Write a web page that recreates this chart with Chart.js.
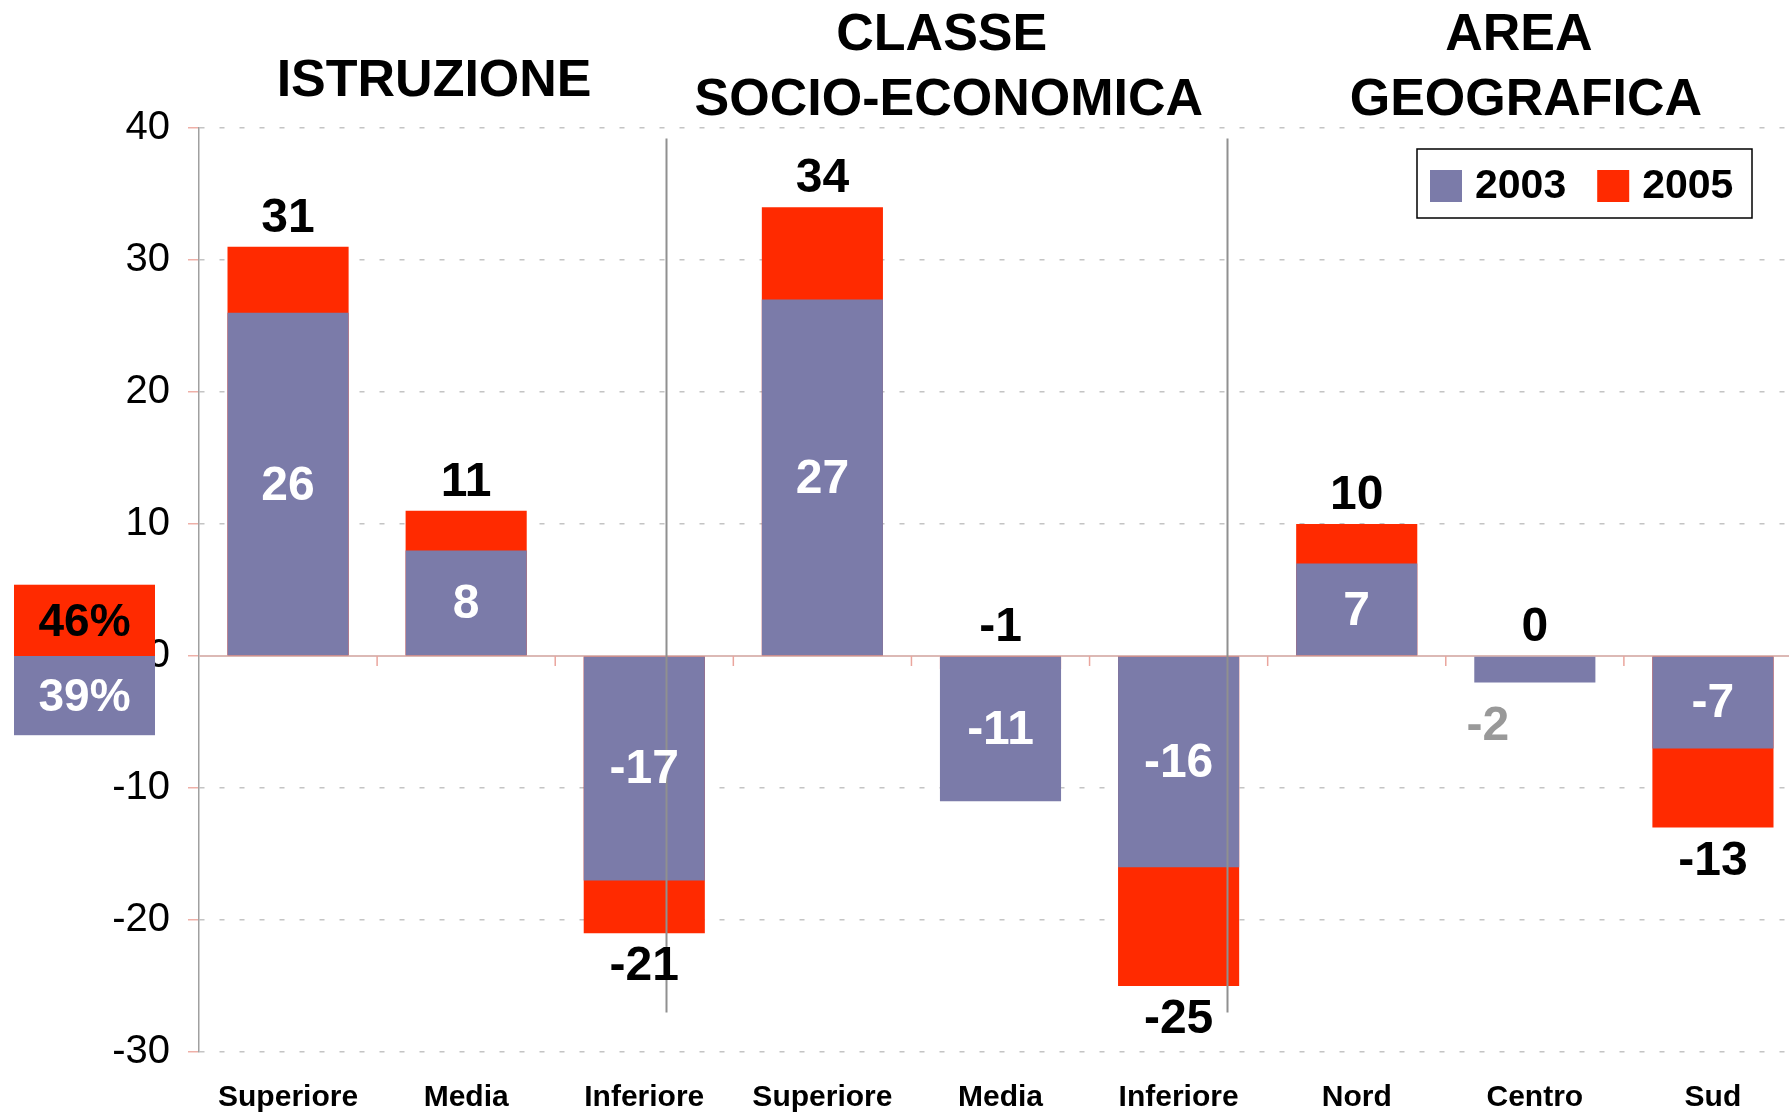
<!DOCTYPE html>
<html>
<head>
<meta charset="utf-8">
<script src="https://cdn.jsdelivr.net/npm/chart.js@4.4.0/dist/chart.umd.min.js"></script>
<style>
    html, body { margin: 0; padding: 0; background: #fff; overflow: hidden; }
    #wrap { width: 1804px; height: 1113px; }
</style>
</head>
<body>
<div id="wrap"><canvas id="chart" width="1804" height="1113"></canvas></div>
<script>
// Data
const categories = ['Superiore', 'Media', 'Inferiore', 'Superiore', 'Media', 'Inferiore', 'Nord', 'Centro', 'Sud'];
const values2003 = [26, 8, -17, 27, -11, -16, 7, -2, -7];
const values2005 = [31, 11, -21, 34, -1, -25, 10, 0, -13];
const seriesNames = ['2003', '2005'];
const totalLabels = ['39%', '46%']; // 2003, 2005
const groupTitles = [['ISTRUZIONE'], ['CLASSE', 'SOCIO-ECONOMICA'], ['AREA', 'GEOGRAFICA']];
const yMin = -30;
const yMax = 40;
const yStep = 10;

const BLUE = '#7b7ba9';
const RED = '#ff2a00';
const FONT = '"Liberation Sans", Arial, Helvetica, sans-serif';

const decorations = {
    id: 'decorations',
    beforeDatasetsDraw(chart) {
        const { ctx, chartArea, scales: { x, y } } = chart;
        const y0 = y.getPixelForValue(0);
        ctx.save();
        ctx.strokeStyle = '#dcb9b5';
        ctx.lineWidth = 2;
        ctx.beginPath();
        ctx.moveTo(chartArea.left, y0);
        ctx.lineTo(chartArea.right, y0);
        ctx.stroke();
        // little ticks between categories
        ctx.strokeStyle = '#eaa59d';
        ctx.lineWidth = 1.5;
        for (let i = 1; i < categories.length; i++) {
            const px = x.getPixelForValue(i - 0.5);
            ctx.beginPath();
            ctx.moveTo(px, y0);
            ctx.lineTo(px, y0 + 10);
            ctx.stroke();
        }
        ctx.restore();
    },
    afterDatasetsDraw(chart) {
        const { ctx, chartArea, scales: { x, y } } = chart;
        ctx.save();

        // group separators
        ctx.strokeStyle = '#909090';
        ctx.lineWidth = 2;
        [2.12, 5.27].forEach(pos => {
            const px = Math.round(x.getPixelForValue(pos)) + 0.5;
            ctx.beginPath();
            ctx.moveTo(px, y.getPixelForValue(39.2));
            ctx.lineTo(px, y.getPixelForValue(-27));
            ctx.stroke();
        });

        // value labels
        ctx.textAlign = 'center';
        ctx.textBaseline = 'middle';
        ctx.font = `bold 48px ${FONT}`;
        values2003.forEach((v, i) => {
            const cx = x.getPixelForValue(i);
            if (Math.abs(v) >= 4) {
                ctx.fillStyle = '#ffffff';
                ctx.fillText(String(v), cx, y.getPixelForValue(v / 2) + 2);
            } else {
                ctx.fillStyle = '#999999';
                ctx.fillText(String(v), cx - 47, y.getPixelForValue(Math.min(v, 0)) + 44);
            }
        });
        values2005.forEach((v, i) => {
            const cx = x.getPixelForValue(i);
            ctx.fillStyle = '#000000';
            if (v >= values2003[i]) {
                ctx.fillText(String(v), cx, y.getPixelForValue(Math.max(v, 0)) - 28);
            } else {
                ctx.fillText(String(v), cx, y.getPixelForValue(Math.min(v, 0)) + 34);
            }
        });

        // group titles
        ctx.font = `bold 52px ${FONT}`;
        const titlePos = [[0.82], [3.67, 3.71], [6.91, 6.95]];
        groupTitles.forEach((lines, g) => {
            lines.forEach((line, l) => {
                const ty = lines.length === 1 ? 82 : (l === 0 ? 36 : 101);
                ctx.fillText(line, x.getPixelForValue(titlePos[g][l]), ty);
            });
        });

        // legend box
        const lx = 1417, ly = 149, lw = 335, lh = 69;
        ctx.fillStyle = '#ffffff';
        ctx.fillRect(lx, ly, lw, lh);
        ctx.strokeStyle = '#000000';
        ctx.lineWidth = 1.5;
        ctx.strokeRect(lx, ly, lw, lh);
        ctx.font = `bold 41px ${FONT}`;
        ctx.textAlign = 'left';
        let cur = lx + 13;
        chart.data.datasets.forEach(ds => {
            ctx.fillStyle = ds.backgroundColor;
            ctx.fillRect(cur, ly + 21, 32, 32);
            ctx.fillStyle = '#000000';
            ctx.fillText(ds.label, cur + 45, ly + 38);
            cur += 45 + ctx.measureText(ds.label).width + 31;
        });

        // overall totals box on the left
        const bx = chartArea.left - 185, bw = 141;
        const yTop = y.getPixelForValue(5.4), yZero = y.getPixelForValue(0), yBot = y.getPixelForValue(-6);
        ctx.fillStyle = RED;
        ctx.fillRect(bx, yTop, bw, yZero - yTop);
        ctx.fillStyle = BLUE;
        ctx.fillRect(bx, yZero, bw, yBot - yZero);
        ctx.textAlign = 'center';
        ctx.font = `bold 46px ${FONT}`;
        ctx.fillStyle = '#000000';
        ctx.fillText(totalLabels[1], bx + bw / 2, (yTop + yZero) / 2 + 3);
        ctx.fillStyle = '#ffffff';
        ctx.fillText(totalLabels[0], bx + bw / 2, (yZero + yBot) / 2 + 3);

        ctx.restore();
    }
};

new Chart(document.getElementById('chart'), {
    type: 'bar',
    data: {
        labels: categories,
        datasets: [
            {
                label: seriesNames[0],
                data: values2003,
                backgroundColor: BLUE,
                borderWidth: 0
            },
            {
                label: seriesNames[1],
                data: values2005,
                backgroundColor: RED,
                borderWidth: 0
            }
        ]
    },
    options: {
        responsive: false,
        animation: false,
        grouped: false,
        barPercentage: 0.68,
        categoryPercentage: 1.0,
        layout: { padding: { top: 128, right: 2, left: 0, bottom: 0 } },
        plugins: {
            legend: { display: false },
            tooltip: { enabled: false }
        },
        scales: {
            x: {
                afterFit(scale) { scale.height = 61; },
                grid: { display: false, drawTicks: false },
                border: { display: false },
                ticks: {
                    color: '#000',
                    padding: 28,
                    font: { family: FONT, size: 30, weight: 'bold' }
                }
            },
            y: {
                min: yMin,
                max: yMax,
                afterFit(scale) { scale.width = 199; },
                ticks: {
                    stepSize: yStep,
                    color: '#000',
                    padding: 18,
                    font: { family: FONT, size: 40 }
                },
                grid: {
                    color: ctx => ctx.tick && ctx.tick.value === 0 ? 'rgba(0,0,0,0)' : '#c4c4c4',
                    tickColor: '#eeb0a8',
                    tickLength: 11,
                    lineWidth: 1.5
                },
                border: { display: true, color: '#a0a0a0', width: 1.5, dash: [5, 15] }
            }
        }
    },
    plugins: [decorations]
});
</script>
</body>
</html>
